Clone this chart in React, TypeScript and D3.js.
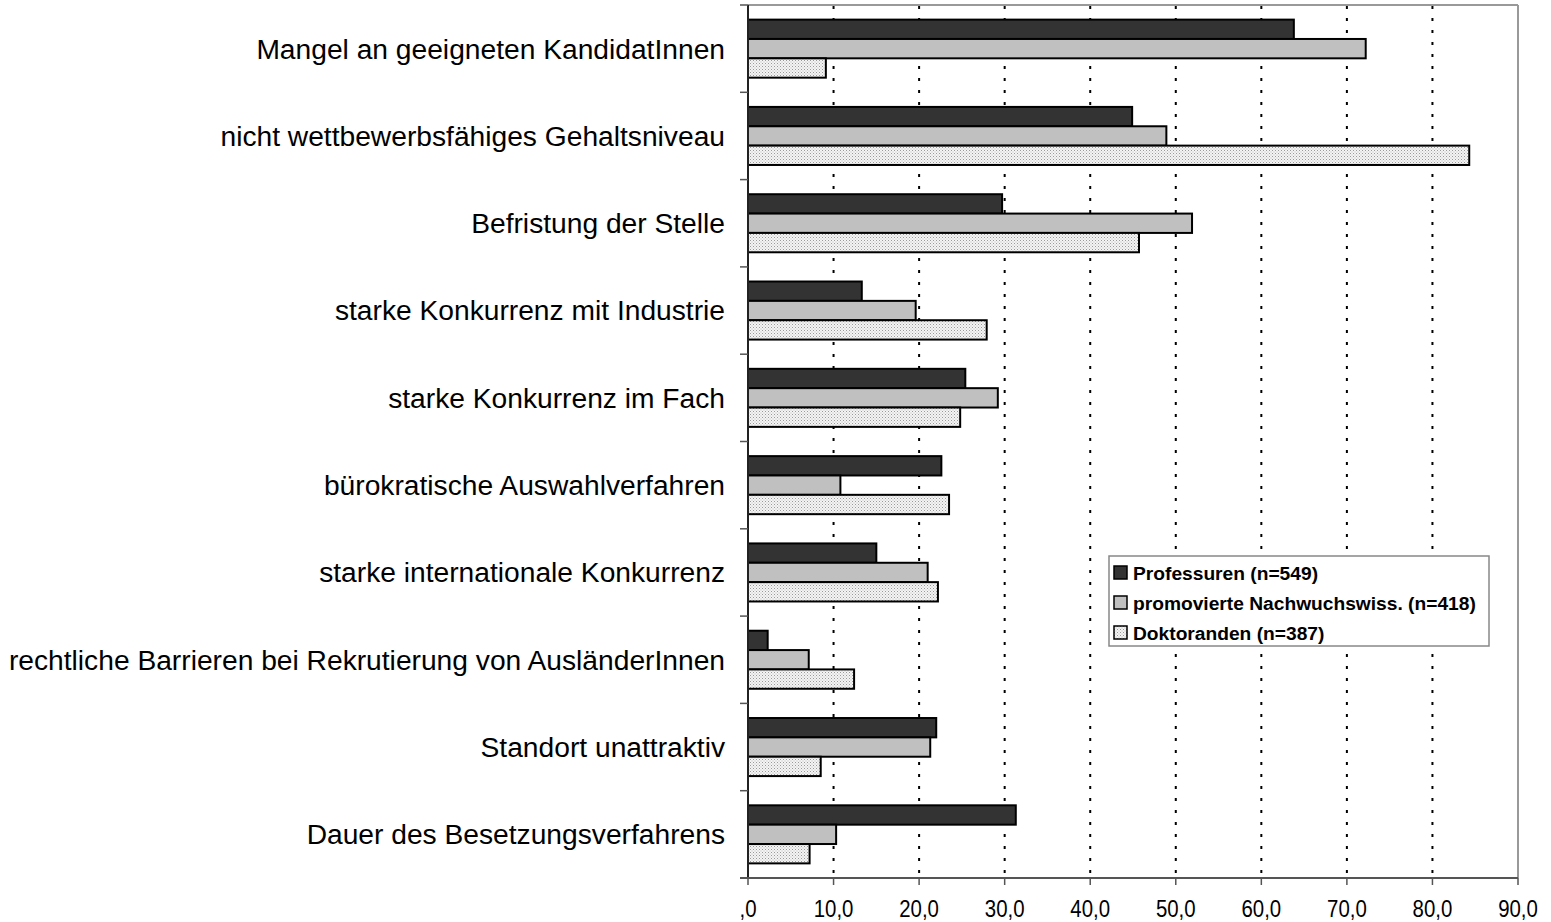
import React from "react";
import * as d3 from "d3";

const categories = [
  "Mangel an geeigneten KandidatInnen",
  "nicht wettbewerbsfähiges Gehaltsniveau",
  "Befristung der Stelle",
  "starke Konkurrenz mit Industrie",
  "starke Konkurrenz im Fach",
  "bürokratische Auswahlverfahren",
  "starke internationale Konkurrenz",
  "rechtliche Barrieren bei Rekrutierung von AusländerInnen",
  "Standort unattraktiv",
  "Dauer des Besetzungsverfahrens",
];
const seriesNames = [
  "Professuren (n=549)",
  "promovierte Nachwuchswiss. (n=418)",
  "Doktoranden (n=387)",
];
const professuren = [63.8, 44.9, 29.7, 13.3, 25.4, 22.6, 15.0, 2.3, 22.0, 31.3];
const promovierte = [72.2, 48.9, 51.9, 19.6, 29.2, 10.8, 21.0, 7.1, 21.3, 10.3];
const doktoranden = [9.1, 84.3, 45.7, 27.9, 24.8, 23.5, 22.2, 12.4, 8.5, 7.2];
const xTicks = [0, 10, 20, 30, 40, 50, 60, 70, 80, 90];
const tickLabels = [",0", "10,0", "20,0", "30,0", "40,0", "50,0", "60,0", "70,0", "80,0", "90,0"];

const series = [professuren, promovierte, doktoranden];
const fills = ["#333333", "#c0c0c0", "url(#dots)"];

export default function App() {
  const W = 1551, H = 922;
  const left = 748, right = 1518, top = 5, bottom = 878;
  const x = d3.scaleLinear().domain([0, 90]).range([left, right]);
  const y = d3.scaleBand<string>().domain(categories).range([top, bottom]).paddingInner(0.335).paddingOuter(0.1675);
  const inner = d3.scaleBand<number>().domain([0, 1, 2]).range([0, y.bandwidth()]);
  const boundaries = d3.range(categories.length + 1).map((i) => top + (i * (bottom - top)) / categories.length);

  return (
    <svg width={W} height={H} style={{ position: "absolute", left: 0, top: 0, background: "#fff" }}>
      <defs>
        <pattern id="dots" width="3" height="3" patternUnits="userSpaceOnUse">
          <rect width="3" height="3" fill="#f4f4f4" />
          <rect x="0" y="0" width="1" height="1" fill="#9a9a9a" />
          <rect x="1.5" y="1.5" width="1" height="1" fill="#b8b8b8" />
        </pattern>
      </defs>
      <rect x={0} y={0} width={W} height={H} fill="#fff" />
      {/* plot border */}
      <line x1={left} y1={top} x2={right} y2={top} stroke="#999" strokeWidth={2} />
      <line x1={right} y1={top} x2={right} y2={bottom} stroke="#999" strokeWidth={2} />
      {/* grid */}
      {xTicks.slice(1, -1).map((t) => (
        <line key={t} x1={x(t)} x2={x(t)} y1={top + 1} y2={bottom} stroke="#000" strokeWidth={2} strokeDasharray="3,9" />
      ))}
      {/* bars */}
      {categories.map((c, i) => (
        <g key={c}>
          {series.map((s, j) => (
            <rect
              key={j}
              x={x(0)}
              y={(y(c) as number) + (inner(j) as number)}
              width={x(s[i]) - x(0)}
              height={inner.bandwidth()}
              fill={fills[j]}
              stroke="#000"
              strokeWidth={2}
            />
          ))}
          <text
            x={725}
            y={(y(c) as number) + y.bandwidth() / 2}
            dy="0.35em"
            textAnchor="end"
            fontFamily="Liberation Sans, Arial, sans-serif"
            fontSize={28.2}
            fill="#000"
          >
            {c}
          </text>
        </g>
      ))}
      {/* y axis */}
      <line x1={left} y1={top} x2={left} y2={bottom} stroke="#222" strokeWidth={2} />
      {boundaries.map((b, i) => (
        <line key={i} x1={left - 8} x2={left} y1={b} y2={b} stroke="#555" strokeWidth={1.5} />
      ))}
      {/* x axis */}
      <line x1={left - 8} y1={bottom} x2={right} y2={bottom} stroke="#555" strokeWidth={2} />
      {xTicks.map((t, i) => (
        <g key={t}>
          <line x1={x(t)} x2={x(t)} y1={bottom} y2={bottom + 7} stroke="#555" strokeWidth={1.5} />
          <g transform={`translate(${x(t)}, 917) scale(0.85, 1)`}>
            <text
              x={0}
              y={0}
              textAnchor="middle"
              fontFamily="Liberation Sans, Arial, sans-serif"
              fontSize={24}
              fill="#000"
            >
              {tickLabels[i]}
            </text>
          </g>
        </g>
      ))}
      {/* legend */}
      <g>
        <rect x={1109} y={556} width={380} height={90} fill="#fff" stroke="#888" strokeWidth={1.5} />
        {seriesNames.map((n, j) => (
          <g key={n} transform={`translate(1114, ${566 + j * 30})`}>
            <rect x={0} y={0} width={13} height={13} fill={fills[j]} stroke="#000" strokeWidth={1.5} />
            <text x={19} y={13.5} fontFamily="Liberation Sans, Arial, sans-serif" fontWeight="bold" fontSize={19.2} fill="#000">
              {n}
            </text>
          </g>
        ))}
      </g>
    </svg>
  );
}
